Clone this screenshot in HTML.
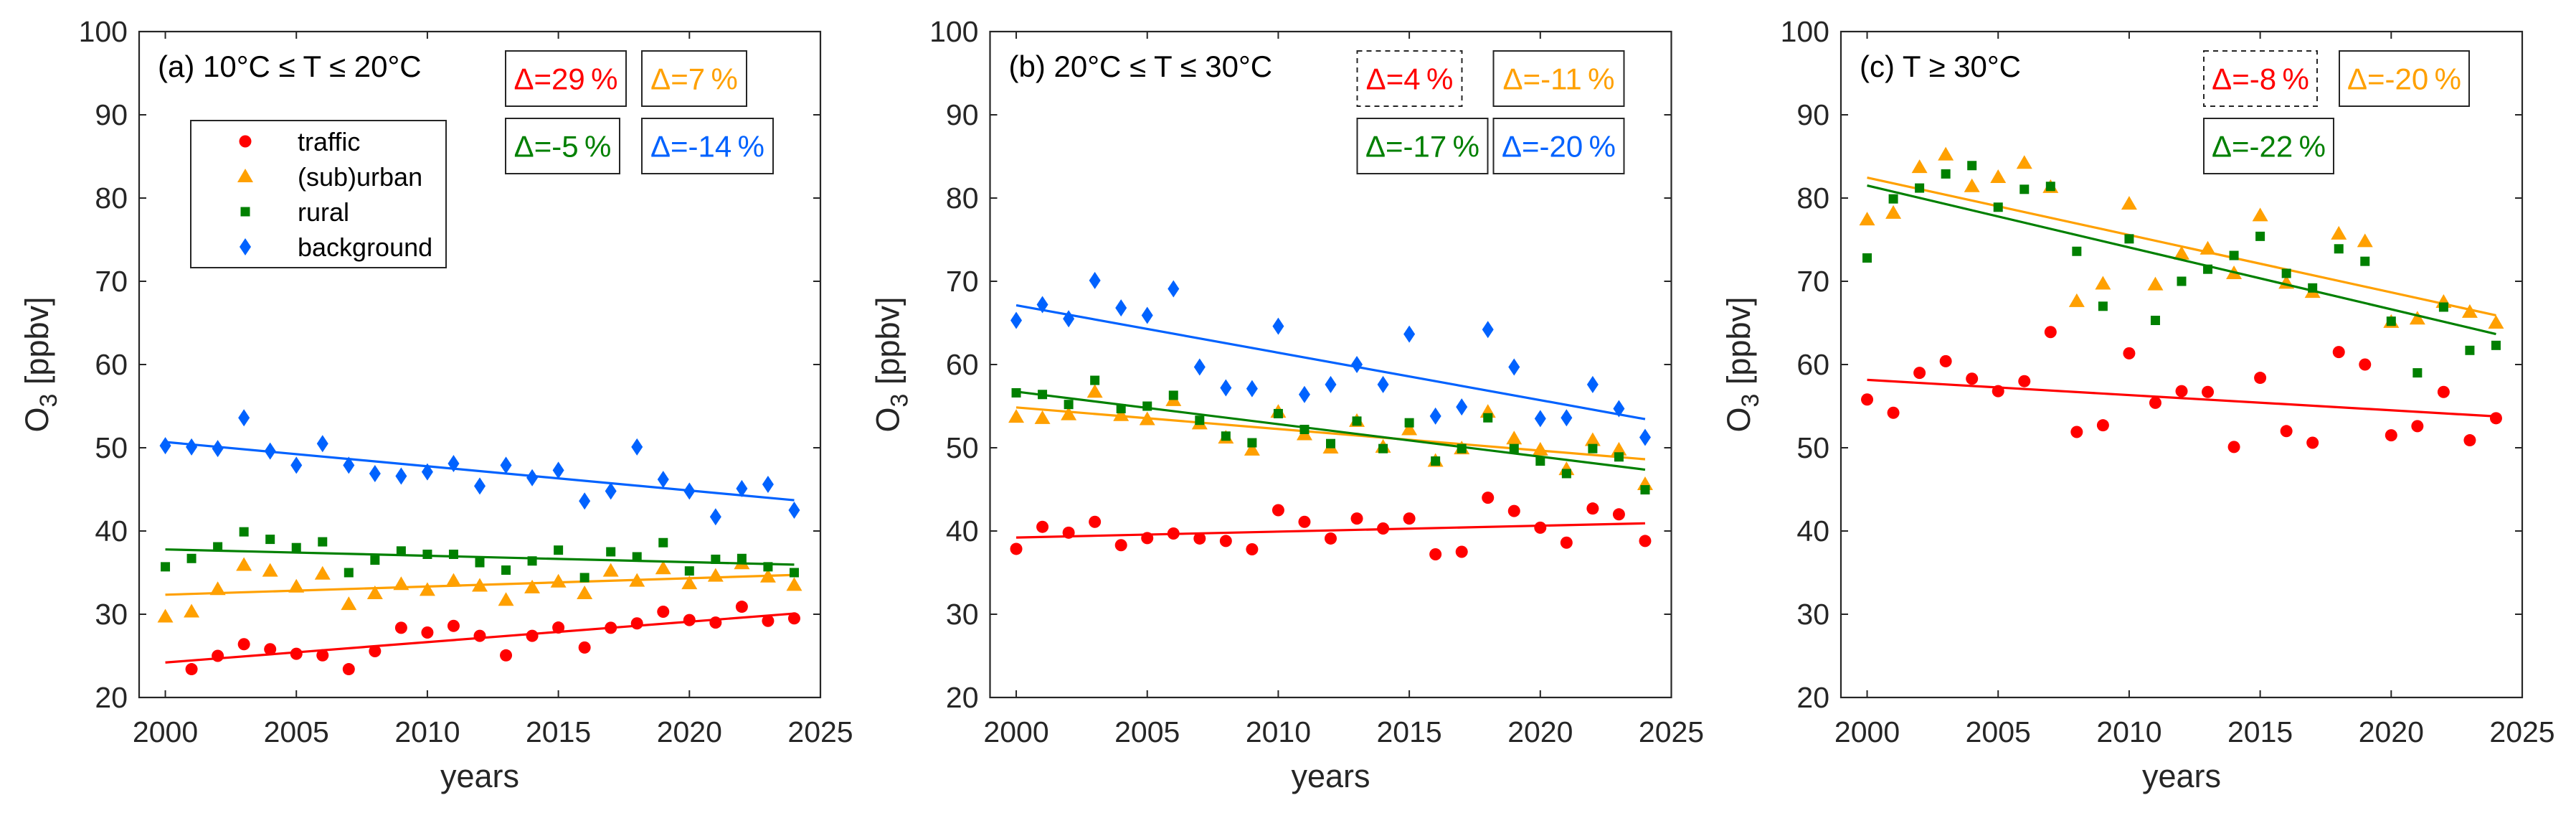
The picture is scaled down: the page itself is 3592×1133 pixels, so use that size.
<!DOCTYPE html>
<html><head><meta charset="utf-8"><style>
html,body{margin:0;padding:0;background:#fff}
svg{display:block;font-family:"Liberation Sans",Arial,sans-serif}
</style></head><body>
<svg id="chart" width="3592" height="1133" viewBox="0 0 3592 1133" xmlns="http://www.w3.org/2000/svg"></svg>
<script>
const years = [2000,2001,2002,2003,2004,2005,2006,2007,2008,2009,2010,2011,2012,2013,2014,2015,2016,2017,2018,2019,2020,2021,2022,2023,2024];
const yTicks = [20,30,40,50,60,70,80,90,100];
const xTicks = [2000,2005,2010,2015,2020,2025];
const panelTitles = ["(a) 10°C \u2264 T \u2264 20°C","(b) 20°C \u2264 T \u2264 30°C","(c) T \u2265 30°C"];
const seriesNames = ["traffic","(sub)urban","rural","background"];
// panel a
const aTraffic = [null,23.4,25.0,26.4,25.8,25.25,25.06,23.4,25.56,28.37,27.8,28.6,27.4,25.06,27.4,28.4,26.0,28.37,28.9,30.3,29.3,29.0,30.9,29.2,29.5];
const aUrban = [29.7,30.3,33.0,35.9,35.2,33.3,34.85,31.2,32.5,33.6,32.9,34.0,33.4,31.7,33.2,33.9,32.5,35.2,34.0,35.5,33.7,34.6,36.1,34.5,33.5];
const aRural = [35.7,36.7,38.1,39.9,39.0,38.0,38.7,35.0,36.5,37.6,37.2,37.2,36.2,35.3,36.4,37.7,34.4,37.5,36.9,38.6,35.2,36.6,36.7,35.7,35.0];
const aBack = [50.25,50.1,49.9,53.6,49.6,47.9,50.5,47.9,46.9,46.6,47.1,48.1,45.4,47.9,46.4,47.3,43.6,44.8,50.1,46.2,44.8,41.7,45.1,45.6,42.5];
// panel b
const bTraffic = [37.85,40.5,39.8,41.1,38.3,39.15,39.7,39.1,38.8,37.8,42.5,41.1,39.1,41.5,40.3,41.5,37.2,37.5,44.0,42.4,40.4,38.6,42.7,42.0,38.8];
const bUrban = [53.7,53.55,54.0,56.7,53.9,53.4,55.7,52.9,51.2,49.75,54.3,51.6,50.0,53.2,50.1,52.2,48.4,49.9,54.3,51.1,49.75,47.4,50.9,49.75,45.6];
const bRural = [56.6,56.4,55.2,58.1,54.7,55.0,56.3,53.3,51.4,50.6,54.1,52.2,50.5,53.2,49.9,53.0,48.4,49.9,53.6,49.9,48.4,46.9,49.9,48.9,44.95];
const bBack = [65.3,67.2,65.5,70.1,66.8,65.9,69.1,59.7,57.2,57.1,64.6,56.4,57.6,60.0,57.6,63.65,53.8,54.9,64.2,59.7,53.5,53.6,57.6,54.7,51.25];
// panel c
const cTraffic = [55.8,54.2,59.0,60.4,58.3,56.8,58.0,63.9,51.9,52.7,61.35,55.4,56.8,56.7,50.1,58.4,52.0,50.6,61.5,60.0,51.5,52.6,56.7,50.9,53.55];
const cUrban = [77.4,78.2,83.7,85.2,81.4,82.5,84.2,81.3,67.6,69.7,79.3,69.6,73.3,73.9,70.95,77.9,69.8,68.7,75.7,74.8,65.1,65.5,67.5,66.3,65.0];
const cRural = [72.8,79.9,81.2,82.9,83.9,78.9,81.05,81.4,73.6,67.0,75.1,65.3,70.0,71.45,73.1,75.4,70.95,69.2,73.9,72.4,65.2,59.0,66.9,61.7,62.3];
const aDelta = ["Δ=29\u2009%","Δ=7\u2009%","Δ=-5\u2009%","Δ=-14\u2009%"];
const bDelta = ["Δ=4\u2009%","Δ=-11\u2009%","Δ=-17\u2009%","Δ=-20\u2009%"];
const cDelta = ["Δ=-8\u2009%","Δ=-20\u2009%","Δ=-22\u2009%"];

const COLORS = ["#ff0000","#ffa000","#008000","#0062ff"];
const NS = "http://www.w3.org/2000/svg";
const svg = document.getElementById("chart");
function mk(tag, attrs, parent){const e=document.createElementNS(NS,tag);for(const k in attrs)e.setAttribute(k,attrs[k]);(parent||svg).appendChild(e);return e;}

const TOP=44, BOT=972, W=950, XMIN=1999, XMAX=2025, YMIN=20, YMAX=100;
const lefts=[194,1380.5,2567];

function fit(vals){let n=0,sx=0,sy=0,sxx=0,sxy=0;years.forEach((x,i)=>{const v=vals[i];if(v==null)return;n++;sx+=x;sy+=v;sxx+=x*x;sxy+=x*v;});const b=(n*sxy-sx*sy)/(n*sxx-sx*sx);return [b,(sy-b*sx)/n];}

function marker(g,type,cx,cy,col){
  let e;
  if(type===0){e=mk("circle",{cx:cx,cy:cy,r:8.5,fill:col},g);}
  else if(type===1){e=mk("polygon",{points:`${cx-11},${cy+8} ${cx+11},${cy+8} ${cx},${cy-11}`,fill:col},g);}
  else if(type===2){e=mk("rect",{x:cx-6.5,y:cy-6.5,width:13,height:13,fill:col},g);}
  else {e=mk("polygon",{points:`${cx},${cy-12} ${cx+8},${cy} ${cx},${cy+12} ${cx-8},${cy}`,fill:col},g);}
  return e;
}

function panel(p, series, deltas, boxes, legend){
  const L=lefts[p], R=L+W;
  const X=v=>L+(v-XMIN)/(XMAX-XMIN)*W;
  const Y=v=>BOT-(v-YMIN)/(YMAX-YMIN)*(BOT-TOP);
  const g=mk("g",{});
  
  
  // ticks
  yTicks.forEach(t=>{
    const tl=mk("text",{x:L-16,y:Y(t)+14,"text-anchor":"end","font-size":41,fill:"#262626"},g);
    
    
    tl.textContent=t;
    mk("line",{x1:L,x2:L+10,y1:Y(t),y2:Y(t),stroke:"#262626","stroke-width":2},g);
    mk("line",{x1:R,x2:R-10,y1:Y(t),y2:Y(t),stroke:"#262626","stroke-width":2},g);
  });
  xTicks.forEach(t=>{
    const tl=mk("text",{x:X(t),y:BOT+62,"text-anchor":"middle","font-size":41,fill:"#262626"},g);
    
    
    tl.textContent=t;
    mk("line",{x1:X(t),x2:X(t),y1:BOT,y2:BOT-10,stroke:"#262626","stroke-width":2},g);
    mk("line",{x1:X(t),x2:X(t),y1:TOP,y2:TOP+10,stroke:"#262626","stroke-width":2},g);
  });
  const fr=mk("rect",{x:L,y:TOP,width:W,height:BOT-TOP,fill:"none",stroke:"#262626","stroke-width":2.2},g);
  
  
  // labels
  const xl=mk("text",{x:L+W/2,y:1097,"text-anchor":"middle","font-size":45,fill:"#262626"},g);
  
  
  xl.textContent="years";
  const yl=mk("text",{transform:`translate(${L-127},508) rotate(-90)`,"text-anchor":"middle","font-size":45,fill:"#262626"},g);
  
  
  yl.innerHTML='O<tspan font-size="34" dy="12">3</tspan><tspan dy="-12"> [ppbv]</tspan>';
  const tt=mk("text",{x:L+26,y:107,"font-size":42,fill:"#000"},g);
  
  
  tt.textContent=panelTitles[p];
  // series
  series.forEach((s,si)=>{
    if(!s)return;
    const sg=mk("g",{},g);
    
    
    const [b,a]=fit(s);
    const ln=mk("line",{x1:X(2000),y1:Y(a+b*2000),x2:X(2024),y2:Y(a+b*2024),stroke:COLORS[si],"stroke-width":3.2},sg);
    
    
    years.forEach((yr,i)=>{
      if(s[i]==null)return;
      const m=marker(sg,si,X(yr),Y(s[i]),COLORS[si]);
      
      
    });
  });
  // delta boxes
  boxes.forEach((bx,i)=>{
    const bg=mk("g",{},g);
    
    
    const attrs={x:L+bx[0],y:bx[1],width:bx[2],height:bx[3],fill:"#fff",stroke:"#262626","stroke-width":2};
    if(bx[5])attrs["stroke-dasharray"]="7,6";
    mk("rect",attrs,bg);
    const t=mk("text",{x:L+bx[0]+bx[2]/2,y:bx[1]+bx[3]/2+15,"text-anchor":"middle","font-size":42,fill:COLORS[bx[4]]},bg);
    t.textContent=deltas[i];
  });
  if(legend){
    const lg=mk("g",{},g);
    
    
    mk("rect",{x:266,y:168,width:356,height:205,fill:"#fff",stroke:"#262626","stroke-width":2},lg);
    const rows=[197,246,295,344];
    seriesNames.forEach((n,i)=>{
      const e=mk("g",{},lg);
      
      
      marker(e,i,342,rows[i],COLORS[i]);
      const t=mk("text",{x:415,y:rows[i]+13,"font-size":36,fill:"#000"},e);
      t.textContent=n;
    });
  }
}
panel(0,[aTraffic,aUrban,aRural,aBack],aDelta,[[511,71,168,77,0,false],[701,71,146,77,1,false],[511,165,159,77,2,false],[701,165,183,77,3,false]],true);
panel(1,[bTraffic,bUrban,bRural,bBack],bDelta,[[512,71,146,77,0,true],[702,71,182,77,1,false],[512,165,182,77,2,false],[702,165,182,77,3,false]],false);
panel(2,[cTraffic,cUrban,cRural,null],cDelta,[[506,71,158,77,0,true],[695,71,181,77,1,false],[506,165,181,77,2,false]],false);
</script>
</body></html>
